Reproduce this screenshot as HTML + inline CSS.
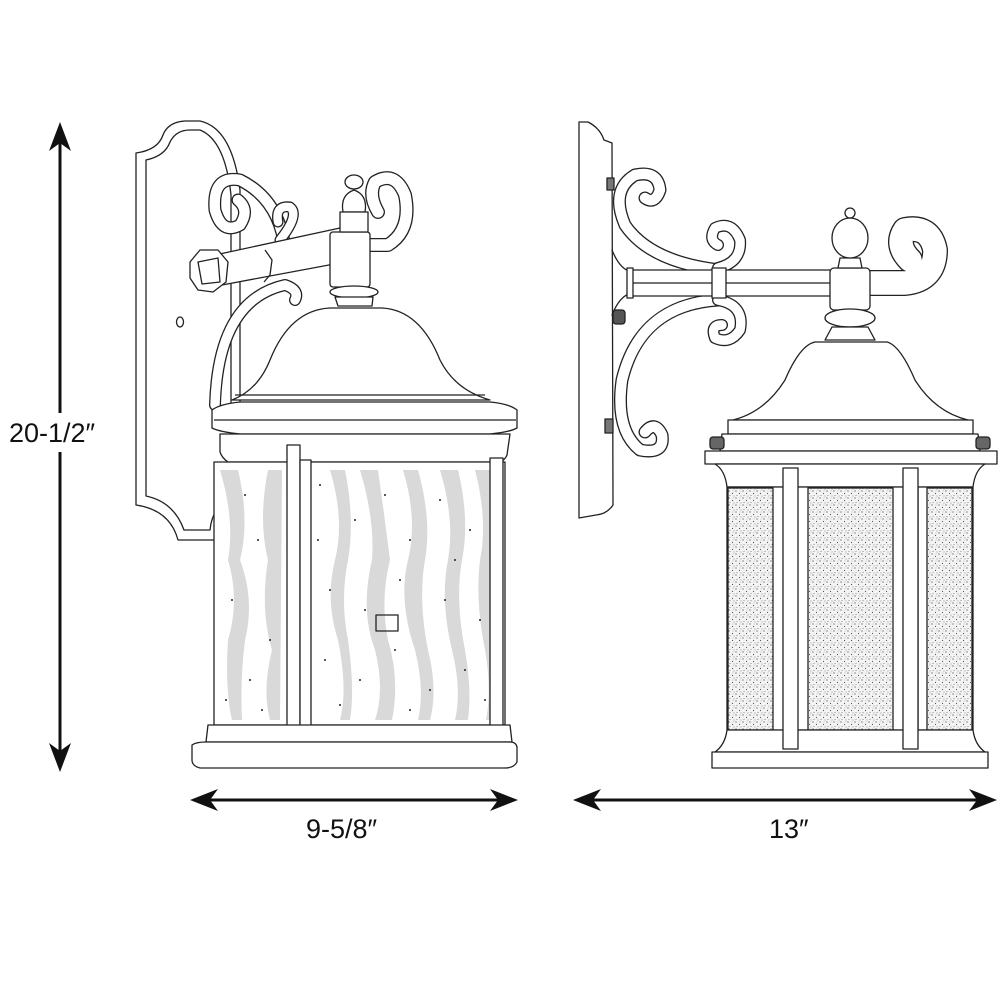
<!DOCTYPE html>
<html><head><meta charset="utf-8"><style>
html,body{margin:0;padding:0;background:#fff;}
svg{display:block;}
text{font-family:"Liberation Sans",sans-serif;fill:#111;}
</style></head><body>
<svg width="1000" height="1000" viewBox="0 0 1000 1000" xmlns="http://www.w3.org/2000/svg">
<defs>
<pattern id="seed" width="7" height="7" patternUnits="userSpaceOnUse">
<rect width="7" height="7" fill="#f4f4f4"/>
<circle cx="1" cy="1" r="0.6" fill="#444"/><circle cx="4.5" cy="3.5" r="0.6" fill="#555"/><circle cx="2" cy="5.5" r="0.5" fill="#666"/><circle cx="6" cy="6" r="0.5" fill="#777"/><circle cx="5" cy="1" r="0.4" fill="#777"/>
</pattern>
</defs>

<!-- dimension lines -->
<g stroke="#111" stroke-width="3">
<line x1="60" y1="140" x2="60" y2="413"/>
<line x1="60" y1="452" x2="60" y2="755"/>
<line x1="205" y1="800" x2="505" y2="800"/>
<line x1="590" y1="800" x2="985" y2="800"/>
</g>
<g fill="#111">
<path d="M60,122 L71,151 L60,143 L49,151 Z"/>
<path d="M60,772 L71,743 L60,751 L49,743 Z"/>
<path d="M190,800 L218,789 L210,800 L218,811 Z"/>
<path d="M518,800 L490,789 L498,800 L490,811 Z"/>
<path d="M573,800 L601,789 L593,800 L601,811 Z"/>
<path d="M997,800 L969,789 L977,800 L969,811 Z"/>
</g>
<text x="9" y="442" font-size="27">20-1/2″</text>
<text x="306" y="838" font-size="27">9-5/8″</text>
<text x="769" y="838" font-size="27">13″</text>

<!-- LEFT LANTERN -->
<g stroke="#222" stroke-width="1.3" fill="#fff" stroke-linejoin="round">
<!-- backplate -->
<path d="M136,153 Q158,150 163,135 Q168,122 185,121 L200,121 Q232,128 240,190 L240,500 Q220,512 218,540 L178,540 Q170,510 136,505 Z"/>
<path d="M146,160 Q165,156 170,142 Q176,130 190,130 L200,130 Q225,140 231,195 L231,495 Q212,508 210,530 L184,530 Q174,502 146,496 Z" fill="none"/>
<ellipse cx="180" cy="322" rx="3.5" ry="5" fill="none"/>
<!-- scrolls -->
<g fill="none" stroke-linecap="round">
<path d="M285,250 Q280,200 240,180 Q212,175 215,210 Q222,235 240,225 Q250,210 238,200" stroke="#222" stroke-width="13"/>
<path d="M285,250 Q280,200 240,180 Q212,175 215,210 Q222,235 240,225 Q250,210 238,200" stroke="#fff" stroke-width="10.4"/>
<path d="M280,240 Q300,215 290,207 Q275,205 278,222" stroke="#222" stroke-width="11"/>
<path d="M280,240 Q300,215 290,207 Q275,205 278,222" stroke="#fff" stroke-width="8.4"/>
<path d="M360,245 L388,245 Q412,230 405,195 Q395,170 375,182 Q368,195 378,212" stroke="#222" stroke-width="14"/>
<path d="M360,245 L388,245 Q412,230 405,195 Q395,170 375,182 Q368,195 378,212" stroke="#fff" stroke-width="11.4"/>
<path d="M215,405 Q218,300 285,285 Q300,290 295,300" stroke="#222" stroke-width="12"/>
<path d="M215,405 Q218,300 285,285 Q300,290 295,300" stroke="#fff" stroke-width="9.4"/>
</g>
<!-- arm -->
<path d="M215,255 L340,228 L345,262 L222,285 Z"/>
<path d="M190,262 L200,250 L218,250 L228,262 L226,282 L213,292 L198,290 L190,278 Z"/>
<path d="M198,262 L218,258 L220,282 L202,284 Z" fill="none"/>
<path d="M265,250 L272,260 L270,275 L264,282" fill="none"/>
<!-- finial -->
<rect x="330" y="232" width="40" height="55" rx="3"/>
<ellipse cx="354" cy="292" rx="24" ry="6"/>
<path d="M335,297 L373,297 L372,306 L338,306 Z"/>
<path d="M343,212 Q340,195 354,190 Q368,195 365,212 Z"/>
<ellipse cx="354" cy="182" rx="9" ry="7"/>
<rect x="340" y="212" width="28" height="20"/>
<!-- dome -->
<path d="M232,400 Q258,390 270,360 Q290,310 330,308 L382,308 Q420,310 440,360 Q455,390 490,400 Z"/>
<path d="M235,395 L485,395" fill="none"/>
<path d="M212,410 Q220,404 240,402 L490,402 Q510,404 517,410 L517,428 Q510,432 490,434 L240,434 Q220,432 212,428 Z"/>
<path d="M214,420 L516,420" fill="none"/>
<path d="M220,434 L510,434 L507,455 Q505,460 500,462 L228,462 Q222,458 220,452 Z"/>
<!-- body glass -->
<rect x="214" y="462" width="291" height="263"/>
<g fill="#d9d9d9" stroke="none">
<path d="M220,470 Q235,520 228,560 Q240,600 228,640 Q225,690 232,720 L242,720 Q240,680 245,640 Q255,600 240,560 Q250,520 238,470 Z"/>
<path d="M268,470 Q258,520 268,560 Q260,610 272,650 Q262,690 270,720 L280,720 L282,470 Z"/>
<path d="M330,470 Q345,520 335,560 Q325,600 338,640 Q348,690 340,720 L350,720 Q355,690 348,640 Q340,600 348,560 Q355,520 345,470 Z"/>
<path d="M360,470 Q375,520 372,560 Q360,610 375,650 Q385,690 375,720 L392,720 Q400,680 388,640 Q380,600 390,560 Q385,520 378,470 Z"/>
<path d="M403,470 Q418,520 408,560 Q398,600 415,650 Q425,690 418,720 L430,720 Q438,690 428,650 Q418,600 425,560 Q432,520 418,470 Z"/>
<path d="M440,470 Q455,520 448,560 Q440,600 452,650 Q462,690 455,720 L468,720 Q472,690 465,650 Q455,600 462,560 Q470,520 458,470 Z"/>
<path d="M475,470 Q488,520 480,560 Q475,600 485,650 Q492,690 486,720 L498,720 L498,470 Z"/>
</g>
<g fill="#222" stroke="none">
<circle cx="245" cy="495" r="1"/><circle cx="258" cy="540" r="1"/><circle cx="232" cy="600" r="1"/><circle cx="270" cy="640" r="1"/><circle cx="250" cy="680" r="1"/><circle cx="226" cy="700" r="1"/><circle cx="262" cy="710" r="1"/>
<circle cx="320" cy="485" r="1"/><circle cx="355" cy="520" r="1"/><circle cx="385" cy="495" r="1"/><circle cx="410" cy="540" r="1"/><circle cx="440" cy="500" r="1"/><circle cx="470" cy="530" r="1"/><circle cx="330" cy="590" r="1"/><circle cx="365" cy="610" r="1"/><circle cx="400" cy="580" r="1"/><circle cx="445" cy="600" r="1"/><circle cx="480" cy="620" r="1"/><circle cx="325" cy="660" r="1"/><circle cx="360" cy="680" r="1"/><circle cx="395" cy="650" r="1"/><circle cx="430" cy="690" r="1"/><circle cx="465" cy="670" r="1"/><circle cx="340" cy="705" r="1"/><circle cx="410" cy="710" r="1"/><circle cx="485" cy="700" r="1"/><circle cx="318" cy="540" r="1"/><circle cx="455" cy="560" r="1"/>
</g>
<rect x="376" y="615" width="22" height="16" fill="none"/>
<rect x="287" y="445" width="13" height="303"/>
<rect x="300" y="460" width="11" height="270"/>
<rect x="490" y="458" width="13" height="270"/>
<path d="M208,725 L510,725 L512,742 L206,742 Z"/>
<path d="M192,745 Q196,742 206,742 L510,742 Q516,742 517,747 L517,762 Q514,768 505,768 L200,768 Q192,766 192,760 Z"/>
</g>

<!-- RIGHT LANTERN -->
<g stroke="#222" stroke-width="1.3" fill="#fff" stroke-linejoin="round">
<!-- wall plate -->
<path d="M579,122 L588,122 Q600,128 604,140 L612,143 L613,505 Q607,514 596,515 L579,518 Z"/>
<rect x="607" y="178" width="7" height="12" fill="#777"/>
<rect x="605" y="419" width="8" height="14" fill="#777"/>
<rect x="613" y="310" width="12" height="14" rx="3" fill="#555"/>
<!-- scrolls (band) -->
<g fill="none" stroke-linecap="round">
<path d="M720,270 Q650,262 625,225 Q610,190 635,175 Q658,170 660,190 Q655,205 645,198" stroke="#222" stroke-width="13"/>
<path d="M720,270 Q650,262 625,225 Q610,190 635,175 Q658,170 660,190 Q655,205 645,198" stroke="#fff" stroke-width="10.4"/>
<path d="M718,268 Q742,262 740,240 Q732,220 715,228 Q708,240 718,245" stroke="#222" stroke-width="12"/>
<path d="M718,268 Q742,262 740,240 Q732,220 715,228 Q708,240 718,245" stroke="#fff" stroke-width="9.4"/>
<path d="M718,300 Q640,305 622,380 Q615,430 640,450 Q665,455 662,435 Q655,420 645,432" stroke="#222" stroke-width="13"/>
<path d="M718,300 Q640,305 622,380 Q615,430 640,450 Q665,455 662,435 Q655,420 645,432" stroke="#fff" stroke-width="10.4"/>
<path d="M718,300 Q745,305 740,330 Q730,345 715,338 Q710,325 722,325" stroke="#222" stroke-width="12"/>
<path d="M718,300 Q745,305 740,330 Q730,345 715,338 Q710,325 722,325" stroke="#fff" stroke-width="9.4"/>
<path d="M860,283 L905,283 Q935,280 935,250 Q930,225 905,230 Q895,245 910,260" stroke="#222" stroke-width="26"/>
<path d="M860,283 L905,283 Q935,280 935,250 Q930,225 905,230 Q895,245 910,260" stroke="#fff" stroke-width="23.4"/>
<path d="M612,250 Q620,270 632,272 M612,315 Q620,295 632,293" stroke="#222" stroke-width="1.3"/>
</g>
<!-- arm -->
<rect x="632" y="270" width="230" height="26"/>
<line x1="632" y1="283" x2="835" y2="283"/>
<rect x="627" y="268" width="6" height="30"/>
<rect x="712" y="268" width="14" height="30"/>
<!-- finial -->
<rect x="830" y="268" width="40" height="42" rx="4"/>
<ellipse cx="850" cy="318" rx="25" ry="9"/>
<path d="M832,327 L868,327 L875,340 L825,340 Z"/>
<path d="M838,268 L862,268 L860,258 L840,258 Z"/>
<ellipse cx="850" cy="238" rx="18" ry="20"/>
<circle cx="850" cy="213" r="5"/>
<!-- dome -->
<path d="M733,420 Q765,412 785,380 Q800,345 815,342 L887,342 Q900,345 915,380 Q935,412 968,420 Z"/>
<rect x="728" y="420" width="245" height="14"/>
<path d="M722,434 L978,434 L980,451 L720,451 Z"/>
<rect x="710" y="437" width="14" height="12" rx="3" fill="#666"/>
<rect x="976" y="437" width="14" height="12" rx="3" fill="#666"/>
<rect x="705" y="451" width="292" height="13"/>
<path d="M715,464 L985,464 Q975,470 973,487 L727,487 Q725,470 715,464 Z"/>
<rect x="727" y="487" width="246" height="243"/>
<rect x="728" y="488" width="45" height="242" fill="url(#seed)"/>
<rect x="808" y="488" width="85" height="242" fill="url(#seed)"/>
<rect x="927" y="488" width="45" height="242" fill="url(#seed)"/>
<line x1="797" y1="488" x2="797" y2="730"/>
<line x1="918" y1="488" x2="918" y2="730"/>
<path d="M727,730 L973,730 Q975,745 985,752 L715,752 Q725,745 727,730 Z"/>
<rect x="712" y="752" width="276" height="16"/>
<rect x="783" y="468" width="15" height="281"/>
<rect x="903" y="468" width="15" height="281"/>
</g>
</svg>
</body></html>
